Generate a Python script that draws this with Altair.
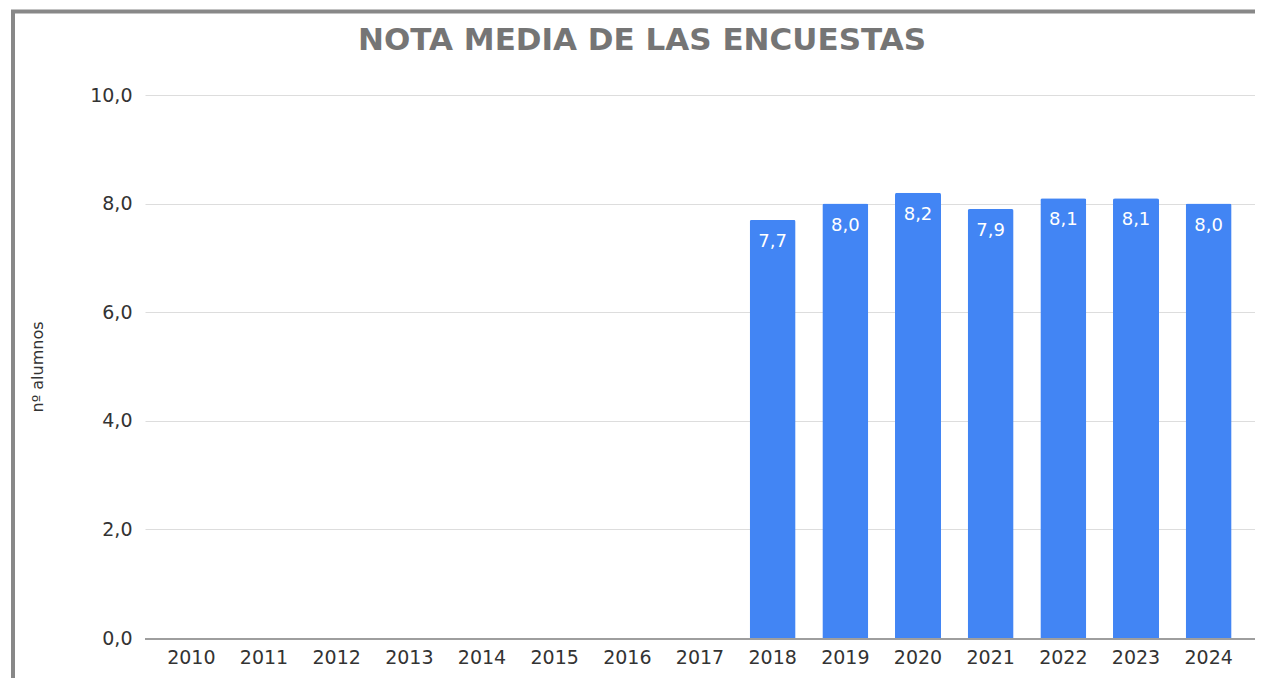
import altair as alt
import pandas as pd

years = ["2010", "2011", "2012", "2013", "2014", "2015", "2016", "2017",
         "2018", "2019", "2020", "2021", "2022", "2023", "2024"]
notas = [None, None, None, None, None, None, None, None,
         7.7, 8.0, 8.2, 7.9, 8.1, 8.1, 8.0]
titulo = "NOTA MEDIA DE LAS ENCUESTAS"
eje_y = "nº alumnos"

df = pd.DataFrame({"year": years, "nota": notas})
one = pd.DataFrame({"t": [titulo]})

W, H = 1110, 543
FONT = "DejaVu Sans"

xenc = alt.X("year:N", sort=years, title=None,
             scale=alt.Scale(paddingInner=0.367, paddingOuter=0.321),
             axis=alt.Axis(labelAngle=0, labelFont=FONT, labelFontSize=19,
                           labelColor="#333333", labelPadding=10, ticks=False,
                           domain=False, grid=False))
yscale = alt.Scale(domain=[0, 10])

bars = alt.Chart(df).mark_bar(color="#4285F4", cornerRadiusTopLeft=2,
                              cornerRadiusTopRight=2).encode(
    x=xenc,
    y=alt.Y("nota:Q", scale=yscale, title=eje_y,
            axis=alt.Axis(values=[0, 2, 4, 6, 8, 10],
                          labelExpr="replace(format(datum.value, '.1f'), '.', ',')",
                          labelFont=FONT, labelFontSize=19, labelColor="#333333",
                          labelPadding=13, ticks=False, domain=False,
                          gridColor="#dddddd", gridWidth=1,
                          titleFont=FONT, titleFontSize=16, titleFontWeight="normal",
                          titleColor="#333333", titlePadding=44))
)

labels = alt.Chart(df).transform_filter("isValid(datum.nota)").transform_calculate(
    lab="replace(format(datum.nota, '.1f'), '.', ',')"
).mark_text(color="white", font=FONT, fontSize=18, baseline="middle", dy=22).encode(
    x=alt.X("year:N", sort=years),
    y=alt.Y("nota:Q", scale=yscale),
    text="lab:N"
)

axisline = alt.Chart(df).mark_rule(color="#9e9e9e", strokeWidth=2).encode(
    x=alt.value(0), x2=alt.value(W), y=alt.value(H + 1)
)

title_mark = alt.Chart(one).mark_text(
    font=FONT, fontSize=31, fontWeight="bold", color="#757575",
    align="center", baseline="middle"
).encode(x=alt.value(497), y=alt.value(-54), text="t:N")

frame_left = alt.Chart(one).mark_rule(color="#888888", strokeWidth=4).encode(
    x=alt.value(-132), y=alt.value(-85), y2=alt.value(H + 60)
)
frame_top = alt.Chart(one).mark_rule(color="#888888", strokeWidth=4).encode(
    x=alt.value(-134), x2=alt.value(W + 40), y=alt.value(-83.5)
)

chart = alt.layer(bars, labels, axisline, title_mark, frame_left, frame_top).properties(
    width=W, height=H,
    autosize=alt.AutoSizeParams(type="none"),
    padding={"left": 137, "top": 87, "right": 0, "bottom": 40},
).configure_view(stroke=None).configure_axis(labelOverlap=False)

chart.save("out.html", embed_options={"renderer": "svg", "actions": False})
